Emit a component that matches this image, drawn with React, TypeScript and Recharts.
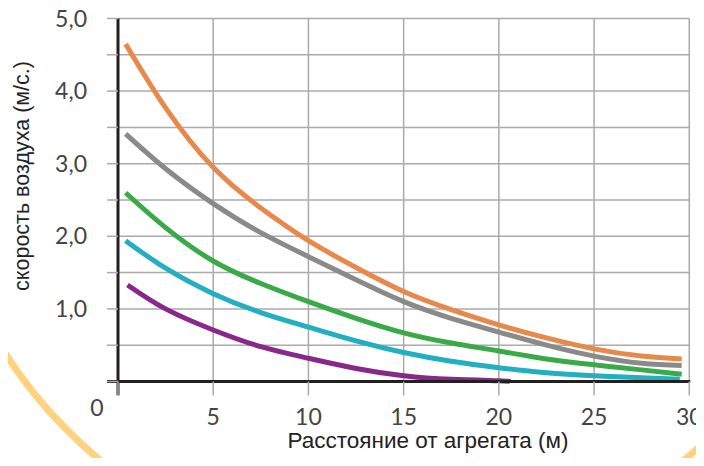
import React from 'react';
import { LineChart, Line, XAxis, YAxis, CartesianGrid, ReferenceLine } from 'recharts';

const xTicks = [0, 5, 10, 15, 20, 25, 30];
const yTicks = [0, 0.5, 1, 1.5, 2, 2.5, 3, 3.5, 4, 4.5, 5];
const yLabelTicks = [1, 2, 3, 4, 5];

const xMain = [0.4, 2.5, 5, 7.5, 10, 12.5, 15, 17.5, 20, 22.5, 25, 27.5, 29.6];
const orangeVals = [4.65, 3.77, 2.95, 2.39, 1.94, 1.57, 1.24, 0.99, 0.78, 0.6, 0.45, 0.35, 0.31];
const grayVals = [3.41, 2.93, 2.45, 2.05, 1.72, 1.4, 1.1, 0.87, 0.68, 0.5, 0.35, 0.25, 0.22];
const greenVals = [2.6, 2.12, 1.66, 1.35, 1.1, 0.87, 0.67, 0.53, 0.42, 0.31, 0.23, 0.16, 0.1];
const xCyan = [0.4, 2.5, 5, 7.5, 10, 12.5, 15, 17.5, 20, 22.5, 25, 27.5, 29.5];
const cyanVals = [1.94, 1.56, 1.21, 0.95, 0.75, 0.56, 0.4, 0.28, 0.19, 0.12, 0.08, 0.05, 0.03];
const xPurple = [0.5, 2.5, 5, 7.5, 10, 12.5, 15, 17.5, 20, 20.6];
const purpleVals = [1.33, 1.0, 0.71, 0.48, 0.32, 0.18, 0.08, 0.03, 0.01, 0.0];

const zip = (xs: number[], ys: number[]) => xs.map((x, i) => ({ x, y: ys[i] }));

const series = [
  { name: 'orange', color: '#E8894B', data: zip(xMain, orangeVals) },
  { name: 'gray', color: '#8A8A8A', data: zip(xMain, grayVals) },
  { name: 'green', color: '#3AAA48', data: zip(xMain, greenVals) },
  { name: 'cyan', color: '#22AFC1', data: zip(xCyan, cyanVals) },
  { name: 'purple', color: '#87288A', data: zip(xPurple, purpleVals) },
];

const tickFont = 'Lato, "Open Sans", sans-serif';
const titleFont = '"Liberation Sans", Arial, sans-serif';
const tickStyle = { fontFamily: tickFont, fontSize: 23, fontWeight: 400, fill: '#444' } as const;

const XTick = (props: any) => {
  const { x, y, payload } = props;
  if (payload.value === 0) {
    return (
      <text x={x - 21} y={y + 18} textAnchor="middle" style={tickStyle}>
        0
      </text>
    );
  }
  return (
    <text x={x} y={y + 27} textAnchor="middle" style={tickStyle}>
      {payload.value}
    </text>
  );
};

const YTick = (props: any) => {
  const { x, y, payload } = props;
  if (!yLabelTicks.includes(payload.value)) return null;
  return (
    <text x={x - 18} y={y + 8} textAnchor="end" style={tickStyle}>
      {payload.value.toFixed(1).replace('.', ',')}
    </text>
  );
};

export default function App() {
  return (
    <div style={{ position: 'relative', width: 704, height: 466, margin: -8, overflow: 'hidden', background: '#fff' }}>
      <svg width={704} height={466} style={{ position: 'absolute', left: 0, top: 0 }}>
        <circle cx={392} cy={106} r={459} fill="none" stroke="#FFD27F" strokeWidth={7} />
      </svg>
      <div style={{ position: 'absolute', left: 0, top: 0 }}>
        <LineChart width={704} height={466} margin={{ top: 18.5, left: 58, right: 14.7, bottom: 54.5 }} style={{ overflow: 'visible' }}>
          <CartesianGrid stroke="#AAAAAA" strokeWidth={1.5} horizontalValues={yTicks} verticalValues={xTicks} />
          <XAxis
            type="number"
            dataKey="x"
            domain={[0, 30]}
            ticks={xTicks}
            height={30}
            axisLine={false}
            tickLine={{ stroke: '#AAAAAA', strokeWidth: 1.5 }}
            tickSize={14}
            tick={<XTick />}
            allowDataOverflow
          />
          <YAxis
            type="number"
            domain={[0, 5]}
            ticks={yTicks}
            width={60}
            axisLine={false}
            tickLine={{ stroke: '#AAAAAA', strokeWidth: 1.5 }}
            tickSize={11}
            tick={<YTick />}
            interval={0}
          />
          {series.map((s) => (
            <Line
              key={s.name}
              data={s.data}
              dataKey="y"
              type="natural"
              stroke={s.color}
              strokeWidth={5}
              dot={false}
              activeDot={false}
              isAnimationActive={false}
            />
          ))}
          <ReferenceLine
            segment={[{ x: 0, y: -0.19 }, { x: 0, y: 5 }]}
            stroke="#231F20"
            strokeWidth={3}
            ifOverflow="visible"
          />
          <ReferenceLine
            segment={[{ x: -0.58, y: 0 }, { x: 30.05, y: 0 }]}
            stroke="#231F20"
            strokeWidth={3}
            ifOverflow="visible"
          />
        </LineChart>
      </div>
      <svg width={704} height={466} style={{ position: 'absolute', left: 0, top: 0, pointerEvents: 'none' }}>
        <text x={428} y={448} textAnchor="middle" fontFamily={titleFont} fontSize={22.5} fill="#222">
          Расстояние от агрегата (м)
        </text>
        <text
          x={0}
          y={0}
          transform="translate(29,176) rotate(-90)"
          textAnchor="middle"
          fontFamily={titleFont}
          fontSize={21.5}
          fill="#222"
        >
          скорость воздуха (м/с.)
        </text>
      </svg>
    </div>
  );
}
